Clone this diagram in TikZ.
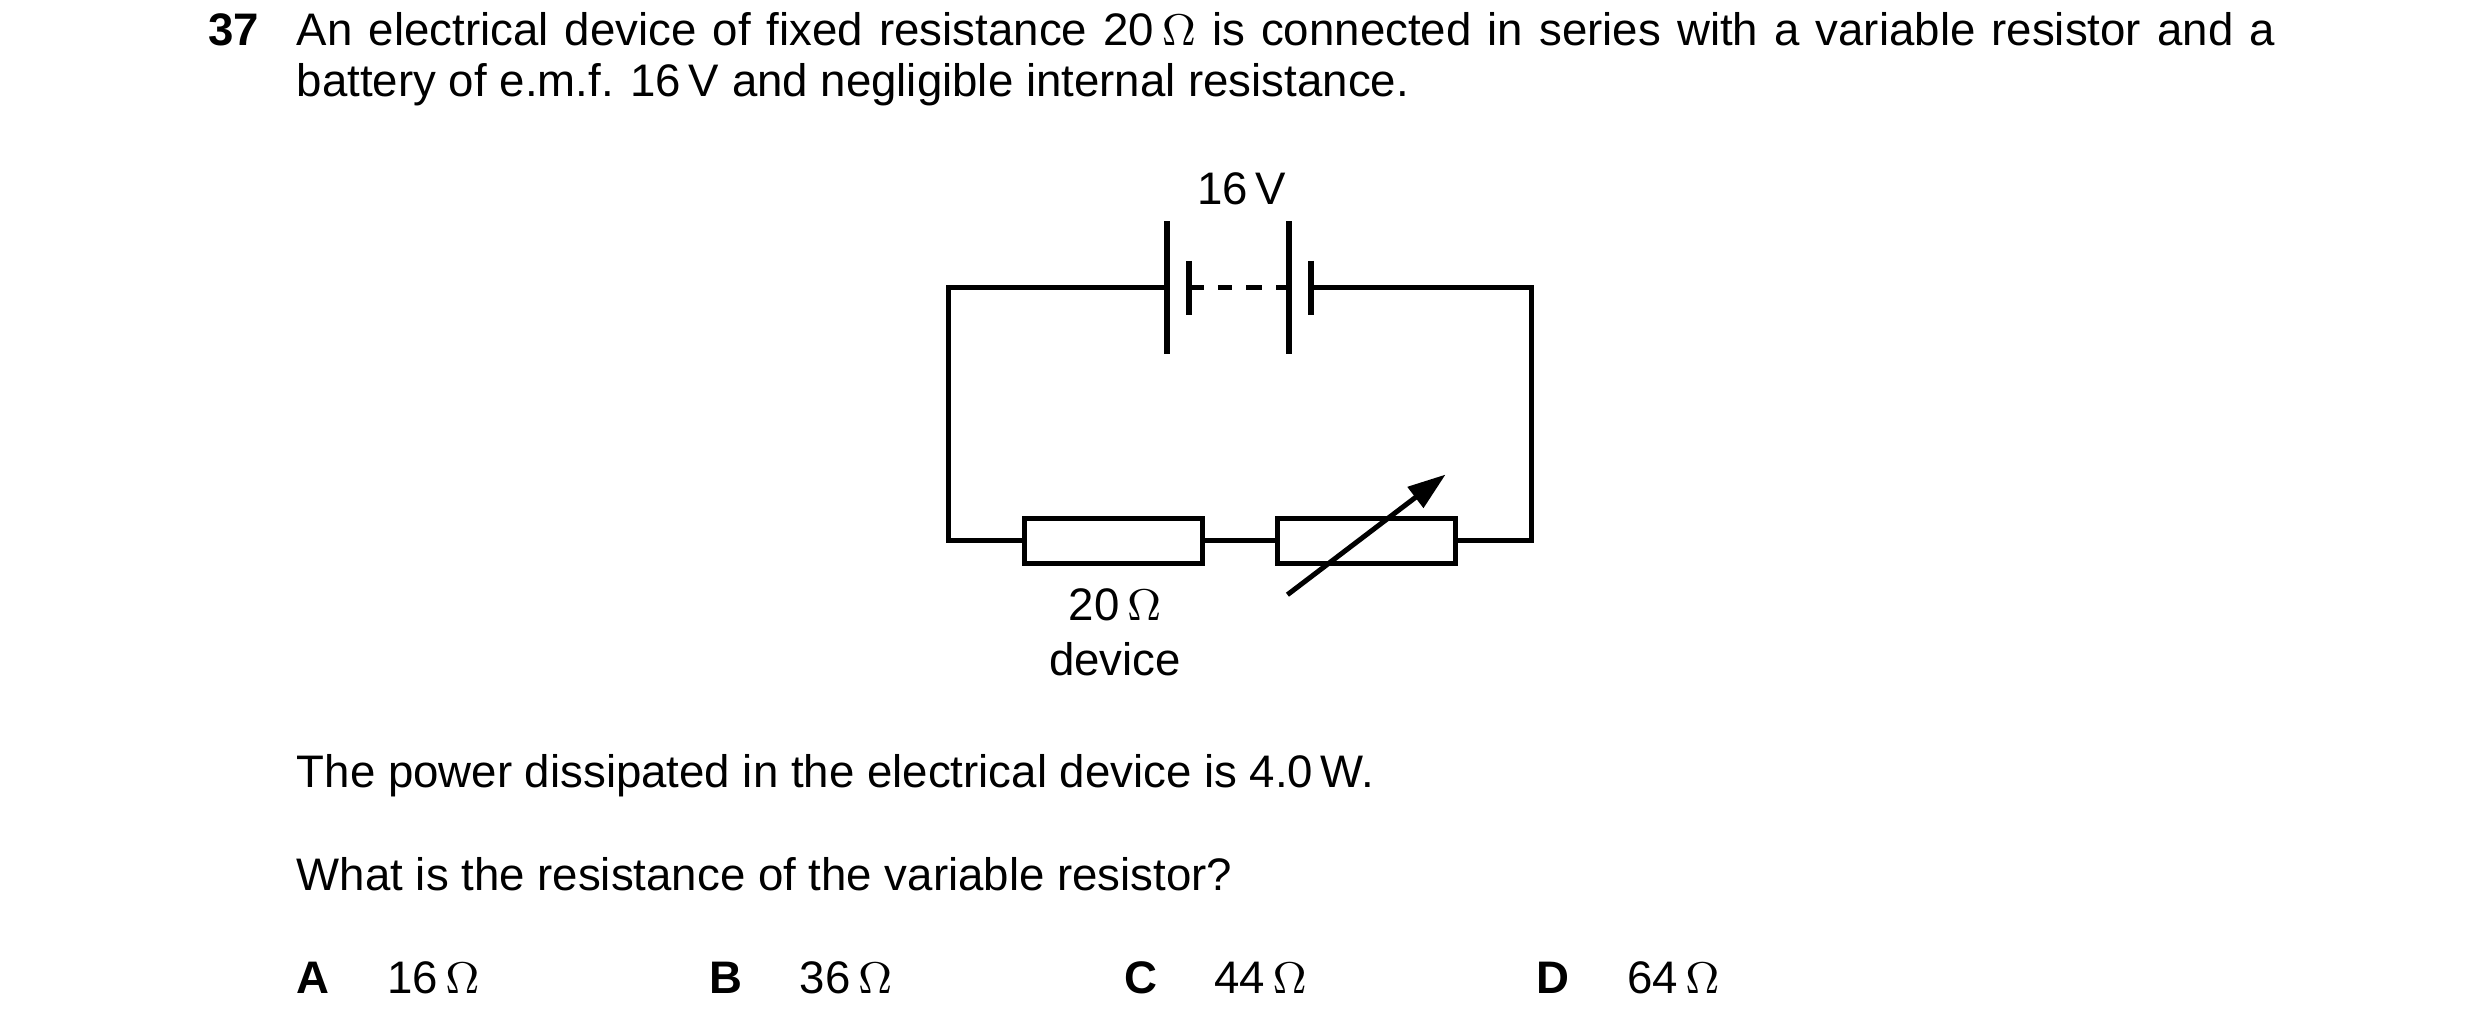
\documentclass[tikz,border=0pt]{standalone}
\usepackage{fontspec}
\setmainfont{Liberation Sans}
\usetikzlibrary{arrows.meta,positioning}
\tikzset{%
      wire/.style = { line width=0.9pt },
     plate/.style = { line width=1.1pt },
  resistor/.style = { draw, line width=0.9pt, minimum width=1.12cm, minimum height=0.28cm, inner sep=0pt },
      txt/.style = { anchor=base west, inner sep=0pt, font=\fontsize{8.2}{10}\selectfont },
     ctxt/.style = { anchor=base, inner sep=0pt, font=\fontsize{8.2}{10}\selectfont }
}
\begin{document}
\begin{tikzpicture}[x=0.01cm,y=-0.01cm,line cap=butt]
\useasboundingbox (0,0) rectangle (1568,653);
% question text
\node[txt,font=\fontsize{8.2}{10}\selectfont\bfseries] (num) at (131,29) {37};
\node[txt] (l1) at (187,29) {\makebox[12.5cm][s]{An electrical device of fixed resistance 20\,$\Omega$ is connected in series with a variable resistor and a}};
\node[txt] (l2) at (187,61) {battery of e.m.f. 16\,V and negligible internal resistance.};
% circuit
\coordinate (tl) at (600,182);
\coordinate (tr) at (968,182);
\coordinate (bl) at (600,342);
\coordinate (br) at (968,342);
\coordinate (p1) at (738,182);
\coordinate (p2) at (752,182);
\coordinate (p3) at (815,182);
\coordinate (p4) at (829,182);
\node[resistor] (dev) at (704,342) {};
\node[resistor] (var) at (864,342) {};
\draw[wire] (p1) -- (tl) -- (bl) -- (dev.west);
\draw[wire] (dev.east) -- (var.west);
\draw[wire] (var.east) -- (br) -- (tr) -- (p4);
\draw[plate] (738,140) -- (738,224);
\draw[plate] (752,165) -- (752,199);
\draw[plate] (815,140) -- (815,224);
\draw[plate] (829,165) -- (829,199);
% dashed link between cells
\draw[wire] (p2) -- (761,182);
\draw[wire] (770,182) -- (779,182);
\draw[wire] (788,182) -- (798,182);
\draw[wire] (807,182) -- (p3);
\coordinate (a0) at (814,376);
\coordinate (a1) at (914,300);
\draw[wire,-{Triangle[length=0.24cm,width=0.16cm]}] (a0) -- (a1);
\node[ctxt] (emf) at (785,129) {16\,V};
\node[ctxt] (r20) at (705,392) {20\,$\Omega$};
\node[ctxt] (dname) at (705,427) {device};
% rest of question
\node[txt] (l3) at (187,498) {The power dissipated in the electrical device is 4.0\,W.};
\node[txt] (l4) at (187,563) {What is the resistance of the variable resistor?};
\foreach \x/\lab/\val in {187/A/16,448/B/36,710/C/44,971/D/64}{
  \node[txt,font=\fontsize{8.2}{10}\selectfont\bfseries] (opt\lab) at (\x,628) {\lab};
  \node[txt] (val\lab) at (\x+57,628) {\val\,$\Omega$};
}
\end{tikzpicture}
\end{document}
